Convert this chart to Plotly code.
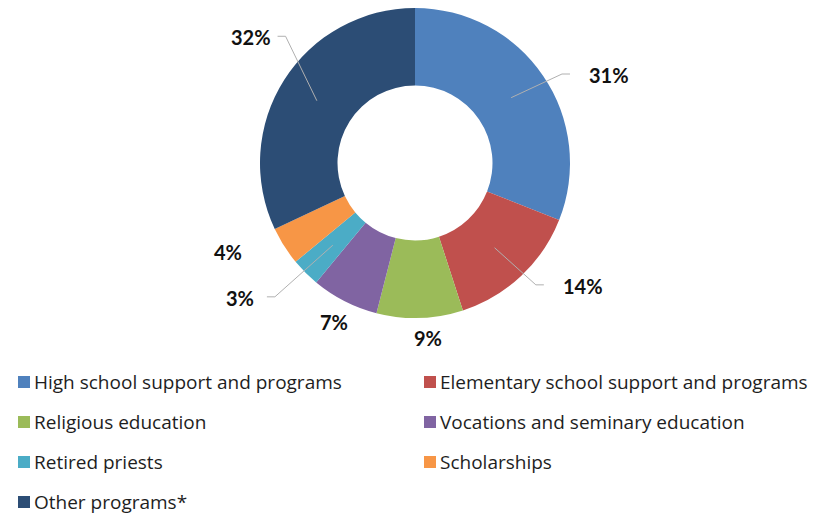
import math
import plotly.graph_objects as go

# ---- data ----
labels = [
    "High school support and programs",
    "Elementary school support and programs",
    "Religious education",
    "Vocations and seminary education",
    "Retired priests",
    "Scholarships",
    "Other programs*",
]
values = [31, 14, 9, 7, 3, 4, 32]
colors = ["#4F81BD", "#C0504D", "#9BBB59", "#8064A2", "#4BACC6", "#F79646", "#2C4D75"]

# ---- layout settings (pixels, page coordinates) ----
W, H = 821, 514
PAGE_OFF = 8  # browser body margin
CX, CY, R_OUT = 415, 163, 155
HOLE = 0.5
FONT = "Lato"
LEG_FONT = "Open Sans"
# label placement relative to slice mid-angle: radius (px) and angular nudge (deg)
label_r = [213, 208, 175, 178, 221, 207, 207]
label_dtheta = [9.8, -10.6, -2.4, 0, 7.4, 7, 5]
label_line = [True, True, False, False, True, False, True]


def px(x):
    return (x - PAGE_OFF) / W


def py(y):
    return 1 - (y - PAGE_OFF) / H


def clamp(v):
    return min(1.0, max(0.0, v))


fig = go.Figure(
    go.Pie(
        labels=labels,
        values=values,
        hole=HOLE,
        sort=False,
        direction="clockwise",
        rotation=0,
        marker=dict(colors=colors, line=dict(width=0)),
        textinfo="none",
        hoverinfo="label+percent",
        showlegend=False,
        domain=dict(x=[clamp(px(CX - R_OUT)), clamp(px(CX + R_OUT))],
                    y=[clamp(py(CY + R_OUT)), clamp(py(CY - R_OUT))]),
    )
)

total = sum(values)
annotations = []
shapes = []
cum = 0
r_mid = R_OUT * (1 + HOLE) / 2
for i, v in enumerate(values):
    mid = (cum + v / 2) / total * 360
    cum += v
    pct = f"{round(v / total * 100)}%"
    a = math.radians(mid + label_dtheta[i])
    tx = CX + label_r[i] * math.sin(a)
    ty = CY - label_r[i] * math.cos(a)
    annotations.append(dict(
        x=px(tx), y=py(ty), xref="paper", yref="paper", text=pct, showarrow=False,
        xanchor="center", yanchor="middle",
        font=dict(family=FONT, size=20, color="#111111", weight="bold"),
    ))
    if label_line[i]:
        am = math.radians(mid)
        sx = CX + r_mid * math.sin(am)
        sy = CY - r_mid * math.cos(am)
        half_w = 20
        side = 1 if tx > CX else -1
        gap = 19 if side > 0 else 7
        hx_end = tx - side * (half_w + gap)
        hx_start = hx_end - side * 8
        ly = ty - 1
        path = f"M {px(sx)},{py(sy)} L {px(hx_start)},{py(ly)} L {px(hx_end)},{py(ly)}"
        shapes.append(dict(type="path", path=path, xref="paper", yref="paper",
                           line=dict(color="#B0B0B0", width=1)))

# ---- legend (two columns) ----
leg_x = [18, 424]
leg_y0, leg_dy = 382, 40
sq = 12
for i, lab in enumerate(labels):
    col, row = i % 2, i // 2
    x0 = leg_x[col]
    yc = leg_y0 + row * leg_dy
    shapes.append(dict(type="rect", xref="paper", yref="paper",
                       x0=px(x0), x1=px(x0 + sq), y0=py(yc + sq / 2), y1=py(yc - sq / 2),
                       fillcolor=colors[i], line=dict(width=0)))
    annotations.append(dict(
        x=px(x0 + sq + 2), y=py(yc), xref="paper", yref="paper", text=lab, showarrow=False,
        xanchor="left", yanchor="middle",
        font=dict(family=LEG_FONT, size=19, color="#1E1E1E"),
    ))

fig.update_layout(
    width=W, height=H,
    margin=dict(l=0, r=0, t=0, b=0),
    paper_bgcolor="white", plot_bgcolor="white",
    annotations=annotations, shapes=shapes,
)

fig.write_html("out.html")
